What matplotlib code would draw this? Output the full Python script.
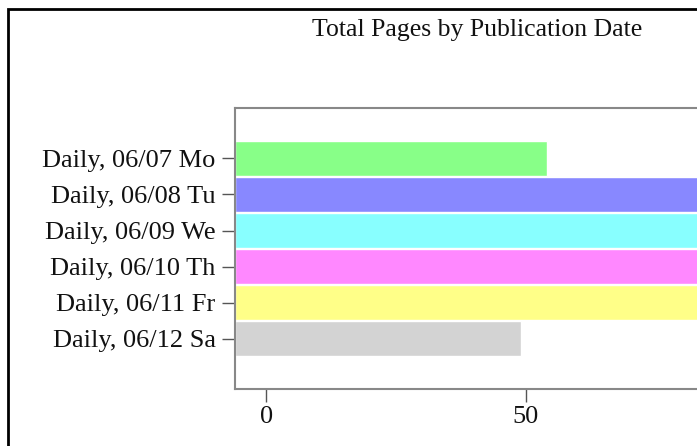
import matplotlib.pyplot as plt
from matplotlib.patches import Rectangle

# data
dates = ["Daily, 06/07 Mo", "Daily, 06/08 Tu", "Daily, 06/09 We",
         "Daily, 06/10 Th", "Daily, 06/11 Fr", "Daily, 06/12 Sa"]
pages = [54, 100, 100, 100, 100, 49]
colors = ["#88ff88", "#8888ff", "#88ffff", "#ff88ff", "#ffff88", "#d3d3d3"]
xticks = [0, 50]

plt.rcParams["font.family"] = ["Liberation Serif", "DejaVu Serif"]

W, H = 697, 446
fig = plt.figure(figsize=(W / 100, H / 100), dpi=100)

# axes runs past the right edge of the picture (cropped chart)
ax = fig.add_axes([235 / W, (H - 389) / H, 665 / W, 281 / H])
xmin, xmax = -6, 122
ax.set_xlim(xmin, xmax)
ax.set_ylim(6.385, -1.39)

y = range(len(dates))
ax.barh(y, [p - xmin for p in pages], left=xmin, height=0.97,
        color=colors, edgecolor="white", linewidth=1)

ax.set_yticks(list(y))
ax.set_yticklabels(dates)
ax.set_xticks(xticks)
ax.tick_params(axis="both", length=9.5, width=1, color="#555555",
               labelsize=19, labelcolor="#111111")
ax.tick_params(axis="y", pad=4.5)
ax.tick_params(axis="x", pad=2.5)

for s in ax.spines.values():
    s.set_color("#888888")
    s.set_linewidth(1.5)

fig.text(477 / W, 1 - 30 / H, "Total Pages by Publication Date",
         ha="center", va="center", fontsize=18.5, color="#111111")

# outer frame, also cropped at right and bottom
fig.patches.append(Rectangle((8 / W, -0.1), 1.2, 1 - 9 / H + 0.1,
                             transform=fig.transFigure, fill=False,
                             edgecolor="black", linewidth=2))

fig.savefig("out.png", dpi=100)
